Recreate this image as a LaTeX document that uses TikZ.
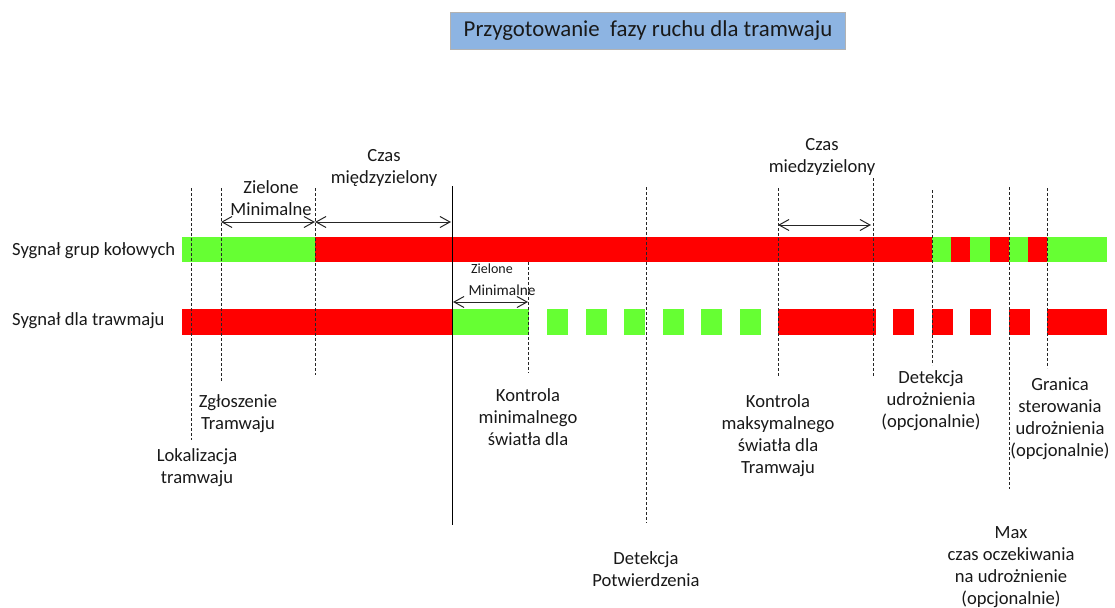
\documentclass[tikz,border=0pt]{standalone}
\usepackage{fontspec}
\setmainfont{Carlito}
\usetikzlibrary{arrows.meta}
\definecolor{tgreen}{RGB}{102,255,51}
\definecolor{tred}{RGB}{255,0,0}
\definecolor{tblue}{RGB}{141,180,226}
\tikzset{
  lbl/.style={align=center, font=\fontsize{18.6}{22}\selectfont, inner sep=0pt, text=black!90},
  smalllbl/.style={font=\fontsize{14}{16}\selectfont, inner sep=0pt, text=black!90},
  guide/.style={draw=black!85, line width=0.9pt, dash pattern=on 3pt off 2pt},
  solidguide/.style={draw=black, line width=1pt},
  dim/.style={{Straight Barb[length=10pt,width=11pt]}-{Straight Barb[length=10pt,width=11pt]}, line width=1pt, draw=black!85},
  gseg/.style={fill=tgreen},
  rseg/.style={fill=tred},
  titlebox/.style={draw=black!30, line width=0.8pt, fill=tblue, minimum width=395pt, minimum height=37pt, font=\fontsize{22.8}{26}\selectfont, text=black!90}
}
\begin{document}
\begin{tikzpicture}[x=1pt,y=-1pt]
\useasboundingbox (0,0) rectangle (1115,607);

% title
\node[titlebox] (title) at (648,30.5) {Przygotowanie\ \ fazy ruchu dla tramwaju};

% row labels
\node[lbl, anchor=west] (rowA) at (12,251) {Sygnał grup kołowych};
\node[lbl, anchor=west] (rowB) at (12,321) {Sygnał dla trawmaju};

% top bar (Sygnał grup kołowych)
\fill[gseg] (182,237) rectangle (315,262);
\fill[rseg] (315,237) rectangle (932,262);
\fill[gseg] (932,237) rectangle (951,262);
\fill[rseg] (951,237) rectangle (970,262);
\fill[gseg] (970,237) rectangle (990,262);
\fill[rseg] (990,237) rectangle (1009,262);
\fill[gseg] (1009,237) rectangle (1028,262);
\fill[rseg] (1028,237) rectangle (1047,262);
\fill[gseg] (1047,237) rectangle (1107,262);

% bottom bar (Sygnał dla trawmaju)
\fill[rseg] (182,309) rectangle (452,335);
\fill[gseg] (452,309) rectangle (529,335);
\foreach \a/\b in {547/568, 586/607, 624/645, 663/684, 701/722, 740/761}
  \fill[gseg] (\a,309) rectangle (\b,335);
\fill[rseg] (778,309) rectangle (876,335);
\fill[rseg] (893,309) rectangle (914,335);
\fill[rseg] (932,309) rectangle (953,335);
\fill[rseg] (970,309) rectangle (991,335);
\fill[rseg] (1009,309) rectangle (1030,335);
\fill[rseg] (1047,309) rectangle (1107,335);

% guide lines
\coordinate (g1t) at (191,188);  \coordinate (g1b) at (191,440);
\coordinate (g2t) at (221,188);  \coordinate (g2b) at (221,382);
\coordinate (g3t) at (315,188);  \coordinate (g3b) at (315,375);
\coordinate (g4t) at (452,186);  \coordinate (g4b) at (452,525);
\coordinate (g5t) at (528,262);  \coordinate (g5b) at (528,373);
\coordinate (g6t) at (646,187);  \coordinate (g6b) at (646,523);
\coordinate (g7t) at (778,188);  \coordinate (g7b) at (778,376);
\coordinate (g8t) at (873,178);  \coordinate (g8b) at (873,376);
\coordinate (g9t) at (932,190);  \coordinate (g9b) at (932,365);
\coordinate (g10t) at (1009,187); \coordinate (g10b) at (1009,489);
\coordinate (g11t) at (1047,188); \coordinate (g11b) at (1047,368);
\foreach \i in {1,2,3,5,6,7,8,9,10,11}
  \draw[guide] (g\i t) -- (g\i b);
\draw[solidguide] (g4t) -- (g4b);

% dimension arrows
\coordinate (d1a) at (221,222); \coordinate (d1b) at (315,222);
\coordinate (d2a) at (315,222); \coordinate (d2b) at (451,222);
\coordinate (d3a) at (778,225); \coordinate (d3b) at (871,225);
\coordinate (d4a) at (453,302); \coordinate (d4b) at (528,302);
\draw[dim] (d1a) -- (d1b);
\draw[dim] (d2a) -- (d2b);
\draw[dim] (d3a) -- (d3b);
\draw[dim] (d4a) -- (d4b);

% labels above
\node[lbl] (zm) at (271,198) {Zielone\\Minimalne};
\node[lbl] (cm1) at (384,168) {Czas\\międzyzielony};
\node[lbl] (cm2) at (822,157) {Czas\\miedzyzielony};
\node[smalllbl] (zs) at (492,268.5) {Zielone};
\node[smalllbl, font=\fontsize{15.3}{17}\selectfont] (ms) at (502,290) {Minimalne};

% labels below
\node[lbl] (zg) at (238,414) {Zgłoszenie\\Tramwaju};
\node[lbl] (lok) at (197,468) {Lokalizacja\\tramwaju};
\node[lbl] (kmin) at (528,417) {Kontrola\\minimalnego\\światła dla};
\node[lbl] (kmax) at (778,436) {Kontrola\\maksymalnego\\światła dla\\Tramwaju};
\node[lbl] (det) at (931,401) {Detekcja\\udrożnienia\\(opcjonalnie)};
\node[lbl] (gran) at (1060,419) {Granica\\sterowania\\udrożnienia\\(opcjonalnie)};
\node[lbl] (detp) at (646,569) {Detekcja\\Potwierdzenia};
\node[lbl] (max) at (1011,567) {Max\\czas oczekiwania\\na udrożnienie\\(opcjonalnie)};
\end{tikzpicture}
\end{document}
